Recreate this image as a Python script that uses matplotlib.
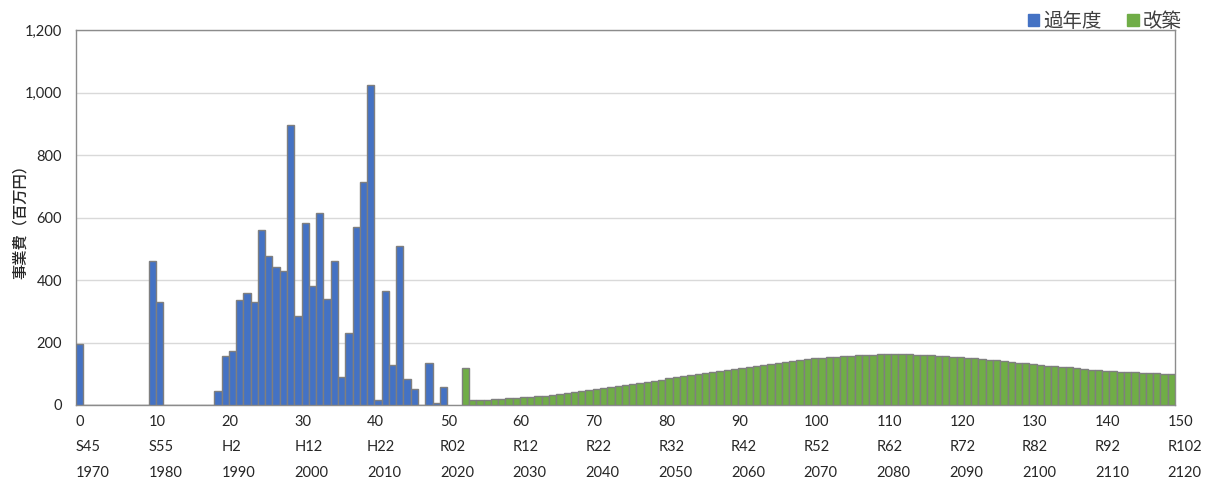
import matplotlib
matplotlib.use("Agg")
import matplotlib.pyplot as plt
from matplotlib.patches import Patch
import numpy as np

plt.rcParams['font.family'] = ['Lato', 'Noto Sans CJK JP', 'DejaVu Sans']

# 経過年数 0..150 (1970..2120)
n_years = 151

# 過年度の事業費 (百万円), 経過年数 0..50
past = [195, 0, 0, 0, 0, 0, 0, 0, 0, 0,
        461, 330, 0, 0, 0, 0, 0, 0, 0, 44,
        156, 172, 337, 357, 330, 559, 477, 443, 428, 897,
        285, 581, 380, 616, 340, 460, 89, 230, 570, 713,
        1024, 17, 365, 129, 509, 82, 52, 0, 135, 7,
        56]
past_start = 0

# 改築の事業費 (百万円), 経過年数 53..150
renewal = [117, 15, 16, 17, 18, 20, 21, 22, 24, 26,
           28, 30, 33, 36, 38, 41, 44, 47, 50, 54,
           57, 60, 64, 67, 71, 74, 78, 81, 85, 88,
           92, 95, 99, 102, 106, 109, 112, 116, 119, 122,
           125, 128, 132, 135, 138, 141, 144, 147, 149, 151,
           153, 155, 157, 158, 159, 160, 161, 162, 162, 162,
           162, 162, 161, 160, 159, 158, 157, 155, 153, 151,
           149, 147, 145, 143, 140, 138, 136, 133, 131, 128,
           126, 124, 122, 120, 117, 115, 113, 112, 110, 108,
           107, 105, 104, 103, 102, 101, 100, 99]
renewal_start = 53

tick_years = list(range(0, 151, 10))
era_labels = ['S45', 'S55', 'H2', 'H12', 'H22', 'R02', 'R12', 'R22',
              'R32', 'R42', 'R52', 'R62', 'R72', 'R82', 'R92', 'R102']
ad_labels = [str(1970 + y) for y in tick_years]

blue = '#4472C4'
green = '#70AD47'
edge = '#7F7F7F'
text_col = '#262626'

fig = plt.figure(figsize=(12.1, 4.86), dpi=100)
ax = fig.add_axes([0.0628, 0.1667, 0.9082, 0.7713])

x_past = np.arange(past_start, past_start + len(past))
x_renew = np.arange(renewal_start, renewal_start + len(renewal))
ax.bar(x_past, past, width=1.0, color=blue, edgecolor=edge, linewidth=1.0, zorder=3)
ax.bar(x_renew, renewal, width=1.0, color=green, edgecolor=edge, linewidth=1.0, zorder=3)

ax.set_xlim(-0.5, n_years - 0.5)
ax.set_ylim(0, 1200)
ax.set_yticks(range(0, 1201, 200))
ax.set_yticklabels([f'{v:,}' for v in range(0, 1201, 200)], fontsize=10.5, color=text_col)
ax.grid(axis='y', color='#D9D9D9', linewidth=1, zorder=0)
ax.tick_params(axis='y', length=0, pad=10)

# 3段の目盛: 経過年数 / 和暦 / 西暦
labels = [f'{y}\n{e}\n{a}' for y, e, a in zip(tick_years, era_labels, ad_labels)]
ax.set_xticks([y - 0.5 for y in tick_years])
ax.set_xticklabels(labels, fontsize=10.5, color=text_col, ha='left', linespacing=2.05)
ax.tick_params(axis='x', length=0, pad=7)

for s in ax.spines.values():
    s.set_color('#8C8C8C')
    s.set_linewidth(1)

ax.set_ylabel('事業費（百万円）', fontsize=11, color=text_col, labelpad=-3,
              family=['Noto Sans CJK JP'], fontweight='medium')

handles = [Patch(facecolor=blue, edgecolor=blue, label='過年度'),
           Patch(facecolor=green, edgecolor=green, label='改築')]
ax.legend(handles=handles, loc='lower right', bbox_to_anchor=(1.006, 0.995), ncol=2,
          frameon=False, handlelength=0.6, handleheight=0.6, handletextpad=0.2,
          columnspacing=1.3, borderpad=0, borderaxespad=0,
          prop={'family': ['Noto Sans CJK JP'], 'size': 14}, labelcolor='#404040')

fig.savefig('out.png', dpi=100)
